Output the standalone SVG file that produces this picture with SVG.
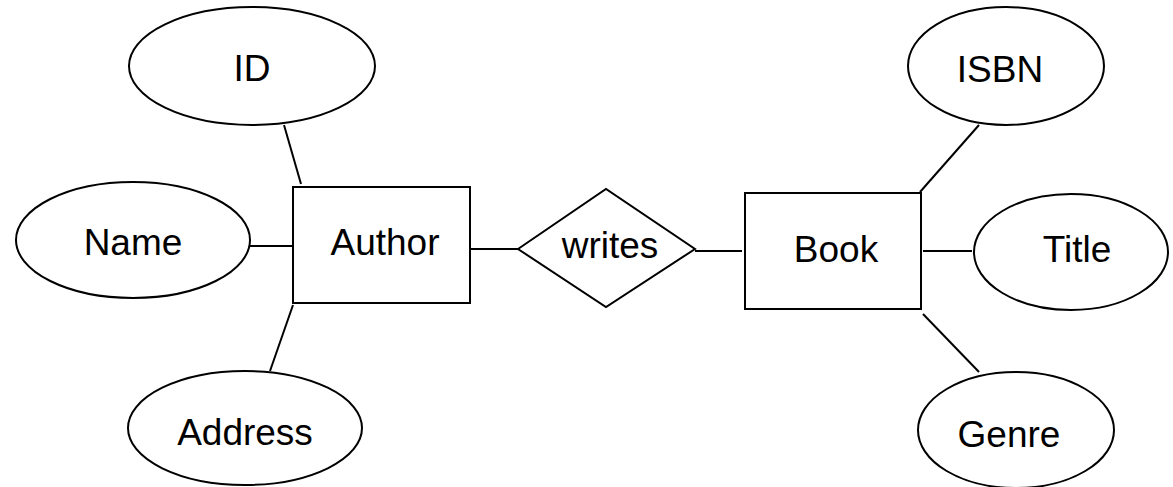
<svg xmlns="http://www.w3.org/2000/svg" width="1173" height="487" viewBox="0 0 1173 487">
<style>
.s{fill:#fff;stroke:#000;stroke-width:2}
.c line{stroke:#000;stroke-width:2}
text{font-family:"Liberation Sans",Arial,sans-serif;font-size:37px;fill:#000;text-anchor:middle}
</style>
<rect width="1173" height="487" fill="#fff"/>
<g class="c" id="connectors">
<line x1="284" y1="125" x2="301" y2="184"/>
<line x1="250" y1="246" x2="293" y2="246"/>
<line x1="293" y1="305" x2="270" y2="371"/>
<line x1="470" y1="249" x2="518" y2="249"/>
<line x1="695" y1="251" x2="742" y2="251"/>
<line x1="979" y1="125" x2="920" y2="192"/>
<line x1="923" y1="251" x2="972" y2="251"/>
<line x1="923" y1="314" x2="979" y2="372"/>
</g>
<g id="ID"><ellipse class="s" cx="252" cy="66" rx="123" ry="59"/><text x="252" y="81">ID</text></g>
<g id="Name"><ellipse class="s" cx="133" cy="240" rx="117" ry="58"/><text x="133" y="255">Name</text></g>
<g id="Address"><ellipse class="s" cx="245" cy="428" rx="117" ry="57"/><text x="245" y="445">Address</text></g>
<g id="Author"><rect class="s" x="293" y="187" width="177" height="116"/><text x="385" y="255">Author</text></g>
<g id="writes"><polygon class="s" points="518,249 606,189 695,249 606,307"/><text x="610" y="258">writes</text></g>
<g id="Book"><rect class="s" x="745" y="193" width="176" height="116"/><text x="836" y="262">Book</text></g>
<g id="ISBN"><ellipse class="s" cx="1006" cy="66" rx="98" ry="59"/><text x="1000" y="82">ISBN</text></g>
<g id="Title"><ellipse class="s" cx="1071" cy="252" rx="97" ry="58"/><text x="1077" y="262">Title</text></g>
<g id="Genre"><ellipse class="s" cx="1016" cy="430" rx="98" ry="58"/><text x="1009" y="447">Genre</text></g>
</svg>
